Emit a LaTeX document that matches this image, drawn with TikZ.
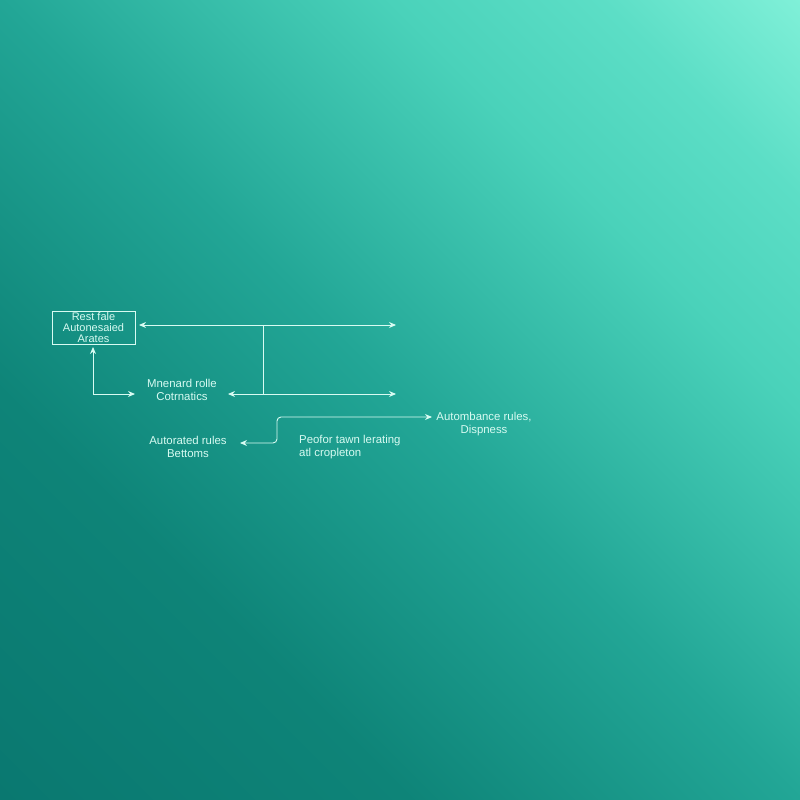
\documentclass[tikz,border=0pt]{standalone}
\usepackage{fontspec}
\setmainfont{Liberation Sans}
\usetikzlibrary{arrows.meta}
\definecolor{bgA}{HTML}{0A7870}
\definecolor{bgB}{HTML}{0E8478}
\definecolor{bgC}{HTML}{22A696}
\definecolor{bgD}{HTML}{4AD2BA}
\definecolor{bgE}{HTML}{5CDEC6}
\definecolor{bgF}{HTML}{80F0D8}
\definecolor{ink}{HTML}{D8FBF2}
\pgfdeclarehorizontalshading{bgaxis}{100bp}{%
  color(0bp)=(bgA); color(25bp)=(bgA); color(37.8bp)=(bgB); color(50bp)=(bgC);
  color(62.2bp)=(bgD); color(68.75bp)=(bgE); color(75bp)=(bgF); color(100bp)=(bgF)}
\tikzset{
  lbl/.style={text=ink, font=\fontsize{11.4}{13}\selectfont, align=center, inner sep=1pt},
  link2/.style={draw=ink, line width=0.9pt, {Stealth[length=7pt,width=6pt]}-{Stealth[length=7pt,width=6pt]}},
  framebox/.style={draw=ink, line width=0.9pt, minimum width=83pt, minimum height=33pt, text=ink,
     font=\fontsize{11}{11}\selectfont, align=center, inner sep=1pt}
}
\begin{document}
\begin{tikzpicture}[x=1pt,y=-1pt]
\useasboundingbox (0,0) rectangle (800,800);
\begin{scope}
\clip (0,0) rectangle (800,800);
\begin{scope}[transform canvas={rotate around={45:(400,400)}}]
\shade[shading=bgaxis] (-166,-166) rectangle (966,966);
\end{scope}
\end{scope}
% box
\node[framebox] (box) at (93.5,327.5) {Rest fale\\Autonesaied\\Arates};
% labels
\node[lbl] (mn) at (182,390) {Mnenard rolle\\Cotrnatics};
\node[lbl] (au) at (188,447) {Autorated rules\\Bettoms};
\node[lbl] (ab) at (484,424) {Autombance rules,\\Dispness};
\node[lbl, align=left, anchor=west] (pf) at (298,447) {Peofor tawn lerating\\atl cropleton};
% coordinates
\coordinate (t1) at (139,325);
\coordinate (t2) at (396,325);
\coordinate (b1) at (228,394);
\coordinate (b2) at (396,394);
\coordinate (j1) at (263,325);
\coordinate (j2) at (263,394);
\coordinate (u1) at (93,347);
\coordinate (u2) at (135,394);
\coordinate (r1) at (432,417);
\coordinate (r2) at (240,443);
% connectors
\draw[link2] (t1) -- (t2);
\draw[link2] (b1) -- (b2);
\draw[draw=ink, line width=0.9pt] (j1) -- (j2);
\draw[link2] (u1) -- (93,394) -- (u2);
\draw[link2, rounded corners=4pt] (r1) -- (277,417) -- (277,443) -- (r2);
\end{tikzpicture}
\end{document}
